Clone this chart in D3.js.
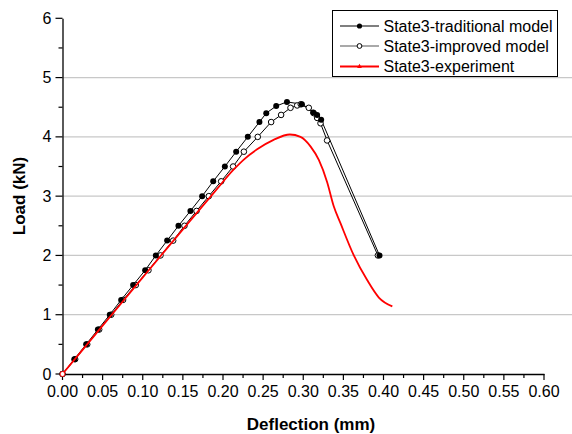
<!doctype html>
<html>
<head>
<meta charset="utf-8"/>
<script src="https://cdnjs.cloudflare.com/ajax/libs/d3/7.8.5/d3.min.js"></script>
<style>
  body { margin: 0; background: #fff; }
  text { font-family: Arial, "Liberation Sans", sans-serif; }
</style>
</head>
<body>
<svg id="chart" width="572" height="434"></svg>
<script>
// State3 traditional model (filled dots)
var tradDefl = [0, 0.0147, 0.0295, 0.0441, 0.0589, 0.0731, 0.088, 0.103, 0.1163, 0.1304, 0.1445, 0.1594, 0.174, 0.1878, 0.2023, 0.2164, 0.2309, 0.2454, 0.2539, 0.2663, 0.2797, 0.2983, 0.3123, 0.3173, 0.3223, 0.395];
var tradLoad = [0, 0.25, 0.5, 0.75, 1.0, 1.25, 1.5, 1.75, 2.0, 2.25, 2.5, 2.75, 3.0, 3.25, 3.5, 3.75, 4.0, 4.25, 4.40, 4.52, 4.59, 4.55, 4.41, 4.37, 4.29, 2.0];

// State3 improved model (open dots)
var impDefl = [0, 0.0158, 0.0308, 0.0457, 0.0607, 0.0755, 0.0913, 0.1071, 0.1221, 0.1379, 0.152, 0.167, 0.1823, 0.1977, 0.2126, 0.226, 0.2433, 0.26, 0.2724, 0.2841, 0.2924, 0.2969, 0.3069, 0.3131, 0.3173, 0.3215, 0.3297, 0.393];
var impLoad = [0, 0.25, 0.5, 0.75, 1.0, 1.25, 1.5, 1.75, 2.0, 2.25, 2.5, 2.75, 3.0, 3.25, 3.5, 3.75, 4.0, 4.25, 4.37, 4.49, 4.53, 4.55, 4.49, 4.40, 4.32, 4.23, 3.94, 2.0];

// State3 experiment (red curve)
var expDefl = [0, 0.05, 0.1, 0.15, 0.19, 0.2134, 0.227, 0.2425, 0.263, 0.2833, 0.2965, 0.309, 0.3194, 0.3297, 0.338, 0.3465, 0.363, 0.3798, 0.3942, 0.411];
var expLoad = [0, 0.815, 1.63, 2.44, 3.08, 3.45, 3.63, 3.79, 3.95, 4.04, 4.0, 3.84, 3.61, 3.24, 2.83, 2.54, 2.0, 1.58, 1.29, 1.14];

var xTicks = [0, 0.05, 0.1, 0.15, 0.2, 0.25, 0.3, 0.35, 0.4, 0.45, 0.5, 0.55, 0.6];
var yTicks = [0, 1, 2, 3, 4, 5, 6];
var legendLabels = ["State3-traditional model", "State3-improved model", "State3-experiment"];

var svg = d3.select("#chart");
var x = d3.scaleLinear().domain([0, 0.6]).range([62.5, 544]);
var y = d3.scaleLinear().domain([0, 6]).range([374, 18.3]);

// grid lines
svg.append("g").selectAll("line")
  .data(yTicks.filter(d => d > 0 && d < 6))
  .enter().append("line")
  .attr("x1", x(0)).attr("x2", 572)
  .attr("y1", d => y(d)).attr("y2", d => y(d))
  .attr("stroke", "#c8c8c8").attr("stroke-width", 1.2);

// x axis
var xAxis = svg.append("g").attr("transform", "translate(0," + y(0) + ")");
xAxis.call(d3.axisBottom(x).tickValues([]).tickSize(0));
xAxis.select(".domain").attr("stroke", "#000").attr("stroke-width", 1.3);
xAxis.selectAll(".mt").data(d3.range(0, 25)).enter().append("line")
  .attr("x1", i => x(i * 0.025)).attr("x2", i => x(i * 0.025))
  .attr("y1", 0).attr("y2", i => i % 2 === 0 ? 6 : 4)
  .attr("stroke", "#000").attr("stroke-width", 1.2);
xAxis.selectAll(".xl").data(xTicks).enter().append("text")
  .attr("x", d => x(d)).attr("y", 23)
  .attr("text-anchor", "middle").attr("font-size", 16).attr("fill", "#000")
  .text(d => d.toFixed(2));

// y axis
var yAxis = svg.append("g").attr("transform", "translate(" + x(0) + ",0)");
yAxis.call(d3.axisLeft(y).tickValues([]).tickSize(0));
yAxis.select(".domain").attr("stroke", "#000").attr("stroke-width", 1.3);
yAxis.selectAll(".mt").data(d3.range(0, 13)).enter().append("line")
  .attr("y1", i => y(i * 0.5)).attr("y2", i => y(i * 0.5))
  .attr("x1", 0).attr("x2", i => i % 2 === 0 ? -7 : -4)
  .attr("stroke", "#000").attr("stroke-width", 1.2);
yAxis.selectAll(".yl").data(yTicks).enter().append("text")
  .attr("x", -11).attr("y", d => y(d) + 5.5)
  .attr("text-anchor", "end").attr("font-size", 16).attr("fill", "#000")
  .text(d => d);

// axis titles
svg.append("text").attr("x", 311).attr("y", 430)
  .attr("text-anchor", "middle").attr("font-size", 17).attr("font-weight", "bold")
  .text("Deflection (mm)");
svg.append("text").attr("transform", "translate(24.5,196) rotate(-90)")
  .attr("text-anchor", "middle").attr("font-size", 17).attr("font-weight", "bold")
  .text("Load (kN)");

var line = d3.line().x(d => x(d[0])).y(d => y(d[1]));
var tradPts = tradDefl.map((d, i) => [d, tradLoad[i]]);
var impPts = impDefl.map((d, i) => [d, impLoad[i]]);
var expPts = expDefl.map((d, i) => [d, expLoad[i]]);

svg.append("path").attr("d", line(tradPts)).attr("fill", "none").attr("stroke", "#000").attr("stroke-width", 1);
svg.append("path").attr("d", line(impPts)).attr("fill", "none").attr("stroke", "#000").attr("stroke-width", 1);

svg.append("g").selectAll("circle").data(impPts).enter().append("circle")
  .attr("cx", d => x(d[0])).attr("cy", d => y(d[1])).attr("r", 2.8)
  .attr("fill", "#fff").attr("stroke", "#000").attr("stroke-width", 1);
svg.append("g").selectAll("circle").data(tradPts).enter().append("circle")
  .attr("cx", d => x(d[0])).attr("cy", d => y(d[1])).attr("r", 3)
  .attr("fill", "#000");

svg.append("path").attr("d", line.curve(d3.curveMonotoneX)(expPts))
  .attr("fill", "none").attr("stroke", "#ff0000").attr("stroke-width", 1.8);
svg.append("circle").attr("cx", x(0)).attr("cy", y(0)).attr("r", 2.5)
  .attr("fill", "#fff").attr("stroke", "#ff0000").attr("stroke-width", 1);

// legend
var lg = svg.append("g");
lg.append("rect").attr("x", 332.5).attr("y", 10.5).attr("width", 225).attr("height", 66)
  .attr("fill", "#fff").attr("stroke", "#000").attr("stroke-width", 1);
var rowY = [26, 46, 66.5];
var rowColor = ["#000", "#555", "#ff0000"];
legendLabels.forEach(function (lab, i) {
  lg.append("line").attr("x1", 340).attr("x2", 379).attr("y1", rowY[i]).attr("y2", rowY[i])
    .attr("stroke", rowColor[i]).attr("stroke-width", i === 2 ? 1.8 : 1.2);
  if (i === 0) lg.append("circle").attr("cx", 359.5).attr("cy", rowY[i]).attr("r", 2.6).attr("fill", "#000");
  if (i === 1) lg.append("circle").attr("cx", 359.5).attr("cy", rowY[i]).attr("r", 2.4)
    .attr("fill", "#fff").attr("stroke", "#000").attr("stroke-width", 1);
  if (i === 2) lg.append("path").attr("d", d3.symbol(d3.symbolTriangle, 10)())
    .attr("transform", "translate(359.5," + rowY[i] + ")").attr("fill", "#ff0000");
  lg.append("text").attr("x", 383.5).attr("y", rowY[i] + 5.5)
    .attr("font-size", 16).attr("fill", "#000").text(lab);
});
</script>
</body>
</html>
